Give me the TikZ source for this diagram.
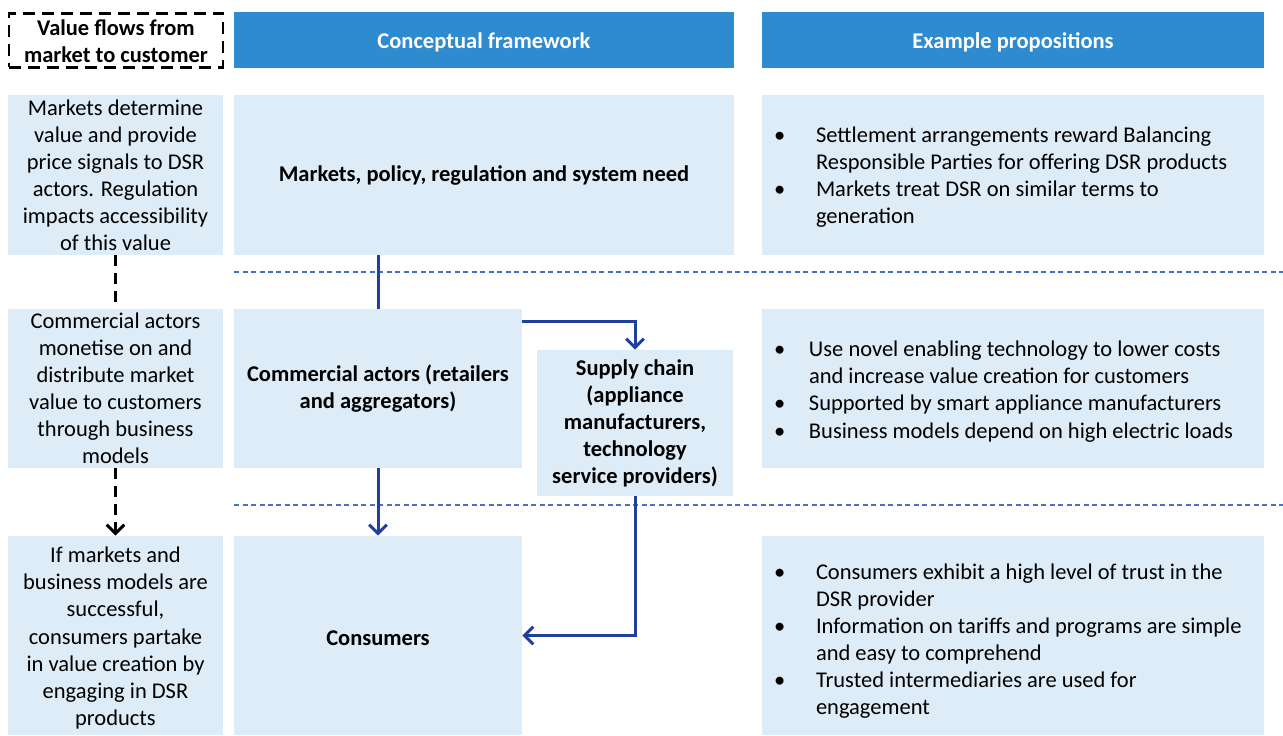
\documentclass[tikz,border=0pt]{standalone}
\usepackage{fontspec}
\setmainfont{Carlito}
\usetikzlibrary{arrows.meta,fit}

\definecolor{headblue}{RGB}{46,139,207}
\definecolor{boxfill}{RGB}{222,236,247}
\definecolor{flowblue}{RGB}{32,64,160}
\definecolor{rowline}{RGB}{68,114,196}

% text size used throughout
\newcommand{\dsrsize}{\fontsize{12.8}{15.4}\selectfont}
% bullet list for the proposition boxes
\newcommand{\proplist}[2]{\begin{tabular}{@{}p{#1}@{}l@{}}#2\end{tabular}}

\begin{document}
\begin{tikzpicture}[x=0.02cm,y=-0.02cm,
  every node/.style={font=\dsrsize},
  cell/.style={fill=boxfill, inner sep=0pt, align=center},
  head/.style={fill=headblue, text=white, inner sep=0pt},
  bold/.style={font=\dsrsize\bfseries},
  flow/.style={draw=flowblue, line width=1.7pt,
    -{Straight Barb[length=5pt,width=10pt,line width=1.7pt]}},
  valueflow/.style={draw=black, line width=1.7pt,
    dash pattern=on 0.22cm off 0.14cm,
    -{Straight Barb[length=5pt,width=10pt,line width=1.7pt]}},
  rowsep/.style={draw=rowline, line width=0.8pt, dash pattern=on 0.1cm off 0.07cm}]
  \useasboundingbox (0,0) rectangle (1283,735);

  % Column headings
  \node[draw=black, line width=1.7pt, dash pattern=on 0.24cm off 0.14cm,
    inner sep=0pt, fit={(9,13) (223,67)}] (hval) {};
  \node[bold, align=center] at ([yshift=-0.02cm]hval.center)
    {Value flows from\\market to customer};
  \node[head, fit={(234,12) (734,68)}] (hcon) {};
  \node[bold, text=white] at ([yshift=-0.05cm]hcon.center) {Conceptual framework};
  \node[head, fit={(762,12) (1264,68)}] (hex) {};
  \node[bold, text=white] at ([yshift=-0.05cm]hex.center) {Example propositions};

  % Row separators
  \draw[rowsep] (234,272) -- (1283,272);
  \draw[rowsep] (234,505) -- (1283,505);

  % Left column: how value flows
  \node[cell, fit={(8,95) (223,255)}] (lmkt) {};
  \node[align=center] at (lmkt.center) {Markets determine\\value and provide\\price signals to DSR\\actors. Regulation\\impacts accessibility\\of this value};
  \node[cell, fit={(8,309) (223,468)}] (lcom) {};
  \node[align=center] at (lcom.center) {Commercial actors\\monetise on and\\distribute market\\value to customers\\through business\\models};
  \node[cell, fit={(8,536) (223,735)}] (lcons) {};
  \node[align=center] at ([yshift=-0.05cm]lcons.center) {If markets and\\business models are\\successful,\\consumers partake\\in value creation by\\engaging in DSR\\products};

  % Middle column: framework
  \node[cell, fit={(234,95) (734,255)}] (mkt) {};
  \node[bold] at (mkt.center) {Markets, policy, regulation and system need};
  \node[cell, fit={(234,309) (522,468)}] (com) {};
  \node[bold, align=center] at (com.center) {Commercial actors (retailers\\and aggregators)};
  \node[cell, fit={(537,350) (733,496)}] (sup) {};
  \node[bold, align=center] at (sup.center) {Supply chain\\(appliance\\manufacturers,\\technology\\service providers)};
  \node[cell, fit={(234,536) (522,735)}] (cons) {};
  \node[bold] at ([yshift=-0.05cm]cons.center) {Consumers};

  % Right column: propositions
  \node[cell, fit={(762,95) (1264,255)}] (pmkt) {};
  \node[anchor=west, inner sep=0pt] at ([xshift=0.24cm,yshift=-0.05cm]pmkt.west) {\proplist{0.84cm}{%
    \textbullet & Settlement arrangements reward Balancing\\
    & Responsible Parties for offering DSR products\\
    \textbullet & Markets treat DSR on similar terms to\\
    & generation}};
  \node[cell, fit={(762,309) (1264,468)}] (pcom) {};
  \node[anchor=west, inner sep=0pt] at ([xshift=0.24cm,yshift=-0.07cm]pcom.west) {\proplist{0.70cm}{%
    \textbullet & Use novel enabling technology to lower costs\\
    & and increase value creation for customers\\
    \textbullet & Supported by smart appliance manufacturers\\
    \textbullet & Business models depend on high electric loads}};
  \node[cell, fit={(762,536) (1264,735)}] (pcons) {};
  \node[anchor=west, inner sep=0pt] at ([xshift=0.24cm,yshift=-0.12cm]pcons.west) {\proplist{0.84cm}{%
    \textbullet & Consumers exhibit a high level of trust in the\\
    & DSR provider\\
    \textbullet & Information on tariffs and programs are simple\\
    & and easy to comprehend\\
    \textbullet & Trusted intermediaries are used for\\
    & engagement}};

  % Flow of value through the framework
  \draw[draw=flowblue, line width=1.7pt] (com.north |- mkt.south) -- (com.north);
  \draw[flow] ([yshift=-0.26cm]com.north east) -| (sup.north);
  \draw[flow] (com.south) -- (cons.north);
  \draw[flow] (sup.south) |- (cons.east);

  % Value flows from market to customer
  \draw[valueflow, -] (lmkt.south) -- (lcom.north);
  \draw[valueflow] (lcom.south) -- (lcons.north);
\end{tikzpicture}
\end{document}
